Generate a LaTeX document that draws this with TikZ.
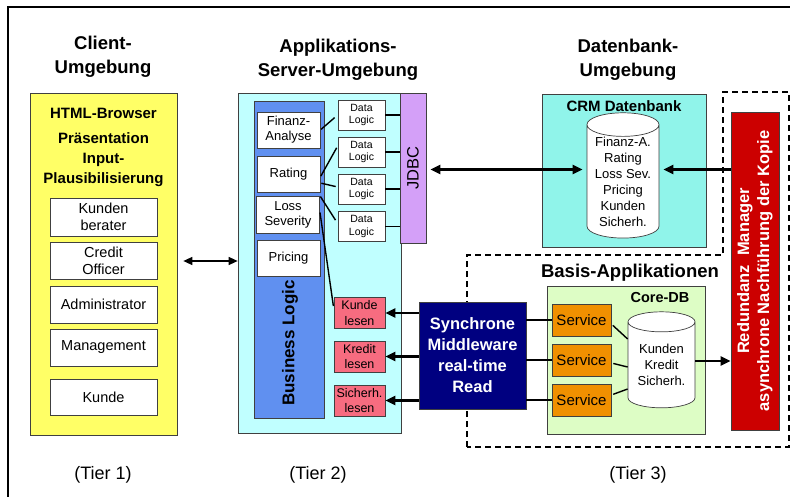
\documentclass[tikz,border=0pt]{standalone}
\usepackage{fontspec}
\setmainfont{Liberation Sans}
\usepackage{graphicx}
\usetikzlibrary{arrows.meta,shapes.geometric}
\definecolor{client}{HTML}{FFFF66}
\definecolor{appenv}{HTML}{C0FFFF}
\definecolor{logic}{HTML}{6090F0}
\definecolor{jdbc}{HTML}{D4A0F8}
\definecolor{lesen}{HTML}{F76C80}
\definecolor{mware}{HTML}{000080}
\definecolor{crm}{HTML}{90F4EA}
\definecolor{core}{HTML}{DDFDC5}
\definecolor{svc}{HTML}{F09000}
\definecolor{redund}{HTML}{CC0000}

\begin{document}
\begin{tikzpicture}[x=1pt,y=-1pt,
    box/.style={draw=black!75,line width=0.7pt,inner sep=0pt,align=center},
    role/.style={box,fill=white,minimum width=107pt,minimum height=37pt,font=\fontsize{14.5}{17}\selectfont},
    func/.style={box,fill=white,minimum width=63pt,minimum height=36pt,font=\fontsize{13}{15}\selectfont},
    dlogic/.style={box,fill=white,minimum width=47pt,minimum height=30pt,font=\fontsize{10.5}{12.5}\selectfont},
    reader/.style={box,fill=lesen,minimum width=51pt,minimum height=31pt,font=\fontsize{12.5}{15.5}\selectfont},
    service/.style={box,fill=svc,minimum width=59pt,minimum height=32pt,font=\fontsize{15}{17}\selectfont},
    dbcyl/.style={cylinder,shape border rotate=90,aspect=0.42,draw=black!75,fill=white,line width=0.7pt,inner sep=0pt,align=center,font=\fontsize{13}{16}\selectfont},
    heading/.style={align=center,font=\bfseries\fontsize{18.5}{24}\selectfont},
    tier/.style={font=\fontsize{18}{20}\selectfont},
    arr/.style={line width=2.2pt,-{Triangle[length=10pt,width=9pt]}},
    link/.style={line width=1.4pt}
  ]
  \useasboundingbox (0,0) rectangle (790,497);
  \draw[line width=1.8pt] (8,497) |- (790,7);
  \draw[line width=1.2pt,dash pattern=on 6pt off 4pt]
    (467,447) -- (467,255) -- (723,255) -- (723,92) -- (789,92) -- (789,447) -- cycle;

  \path
    (103,57) node[heading] (titclient) {Client-\\Umgebung}
    (338,60) node[heading] (titapp) {Applikations-\\Server-Umgebung}
    (628,60) node[heading] (titdb) {Datenbank-\\Umgebung}
    (103,475) node[tier] (tier1) {(Tier 1)}
    (318,475) node[tier] (tier2) {(Tier 2)}
    (638,475) node[tier] (tier3) {(Tier 3)}
    ;

  \path
    (103.5,264) node[box,fill=client,minimum width=147pt,minimum height=342pt] (client) {}
    (103.5,113) node[font=\bfseries\fontsize{15}{20}\selectfont] (browser) {HTML-Browser}
    (103.5,160) node[align=center,font=\bfseries\fontsize{15}{20}\selectfont] (praes) {Präsentation\\Input-\\Plausibilisierung}
    (103.5,217) node[role,minimum height=38pt] (berater) {Kunden\\berater}
    (103.5,260.5) node[role] (officer) {Credit\\Officer}
    (103.5,304.5) node[role] (admin) {Administrator}
    (103.5,347.5) node[role] (mgmt) {Management}
    (103.5,397) node[role,minimum height=36pt] (kunde) {Kunde}
    ;

  \path
    (319.5,263) node[box,fill=appenv,minimum width=163pt,minimum height=340pt] (app) {}
    (289,259.5) node[box,fill=logic,minimum width=70pt,minimum height=317pt] (blogic) {}
    (290,343) node[rotate=90,font=\bfseries\fontsize{17}{20}\selectfont] (bltext) {Business Logic}
    (288.5,130) node[func] (finanz) {Finanz-\\Analyse}
    (288.5,174) node[func] (rating) {Rating}
    (288,214.5) node[func,minimum height=37pt] (loss) {Loss\\Severity}
    (288.5,258) node[func] (pricing) {Pricing}
    (361.5,115) node[dlogic] (dl1) {Data\\Logic}
    (361.5,152) node[dlogic] (dl2) {Data\\Logic}
    (361.5,189) node[dlogic] (dl3) {Data\\Logic}
    (361.5,226.5) node[dlogic] (dl4) {Data\\Logic}
    (413,168) node[box,fill=jdbc,minimum width=26pt,minimum height=150pt,font=\fontsize{16.5}{18}\selectfont] (jdbc) {\rotatebox{90}{JDBC}}
    (359.5,313) node[reader] (rkunde) {Kunde\\lesen}
    (359.5,356.5) node[reader] (rkredit) {Kredit\\lesen}
    (359.5,400.5) node[reader] (rsich) {Sicherh.\\lesen}
    (472.5,355.5) node[box,fill=mware,text=white,minimum width=107pt,minimum height=107pt,font=\bfseries\fontsize{16.5}{21}\selectfont] (mw) {Synchrone\\Middleware\\real-time\\Read}
    ;

  \path
    (624,170.5) node[box,fill=crm,minimum width=164pt,minimum height=153pt] (crmbox) {}
    (624,106) node[font=\bfseries\fontsize{15}{17}\selectfont] (crmtit) {CRM Datenbank}
    (623,181.5) node[dbcyl,minimum width=72pt,minimum height=117pt] (crmdb) {Finanz-A.\\Rating\\Loss Sev.\\Pricing\\Kunden\\Sicherh.}
    (630,273) node[font=\bfseries\fontsize{18.5}{20}\selectfont] (basis) {Basis-Applikationen}
    (626,360) node[box,fill=core,minimum width=158pt,minimum height=148pt] (corebox) {}
    (660,298) node[font=\bfseries\fontsize{14.5}{17}\selectfont] (coretit) {Core-DB}
    (581.5,320) node[service] (svc1) {Service}
    (581.5,360) node[service] (svc2) {Service}
    (581.5,400) node[service] (svc3) {Service}
    (661.5,365) node[dbcyl,minimum width=67pt,minimum height=96pt] (coredb) {Kunden\\Kredit\\Sicherh.}
    (755,271) node[box,fill=redund,text=white,minimum width=48pt,minimum height=318pt,font=\bfseries\fontsize{16.5}{20}\selectfont] (redund) {\rotatebox{90}{\begin{tabular}{@{}c@{}}Redundanz\ \ Manager\\asynchrone Nachführung der Kopie\end{tabular}}}
    ;

  \draw[link,{Triangle[length=9pt,width=8pt]}-{Triangle[length=9pt,width=8pt]},shorten <=6pt] ([yshift=3pt]client.east) -- ([yshift=3pt]client.east -| app.west);
  \draw[arr,{Triangle[length=10pt,width=9pt]}-{Triangle[length=10pt,width=9pt]},shorten <=4pt,shorten >=4pt] ([yshift=12pt]crmdb.west -| jdbc.east) -- ([yshift=12pt]crmdb.west);
  \draw[arr,shorten >=4pt] ([yshift=12pt]crmdb.east -| redund.west) -- ([yshift=12pt]crmdb.east);
  \draw[arr] ([yshift=4pt]coredb.east) -- ([yshift=4pt]coredb.east -| redund.west);

  \foreach \d in {dl1,dl2,dl3,dl4}
    \draw[link] (\d.east) -- (\d.east -| jdbc.west);
  \draw[link,shorten <=1pt,shorten >=4pt] (finanz.east) -- (dl1.west);
  \draw[link,shorten <=1pt,shorten >=2pt] ([yshift=-3pt]rating.east) -- ([yshift=6pt]dl2.west);
  \draw[link,shorten <=1pt,shorten >=2pt] ([yshift=-9pt]rating.east) -- ([yshift=2pt]dl3.west);
  \draw[link,shorten <=1pt,shorten >=4pt] (loss.north east) -- ([yshift=3pt]dl4.west);
  \draw[link,shorten <=1pt,shorten >=2pt] ([yshift=3pt]loss.east) -- ([yshift=5pt]rkunde.west);

  \foreach \r in {rkunde,rkredit,rsich}
    \draw[arr] (\r.east -| mw.west) -- (\r.east);
  \foreach \s in {svc1,svc2,svc3}
    \draw[link,line width=2.2pt] (\s.west -| mw.east) -- (\s.west);
  \draw[link,shorten <=2pt] ([yshift=-4pt]svc1.east) -- ([yshift=26pt]coredb.west);
  \draw[link,shorten <=2pt] ([yshift=-3pt]svc2.east) -- ([yshift=-2pt]coredb.west);
  \draw[link,shorten <=2pt] ([yshift=5pt]svc3.east) -- ([yshift=-24pt]coredb.west);
\end{tikzpicture}
\end{document}
